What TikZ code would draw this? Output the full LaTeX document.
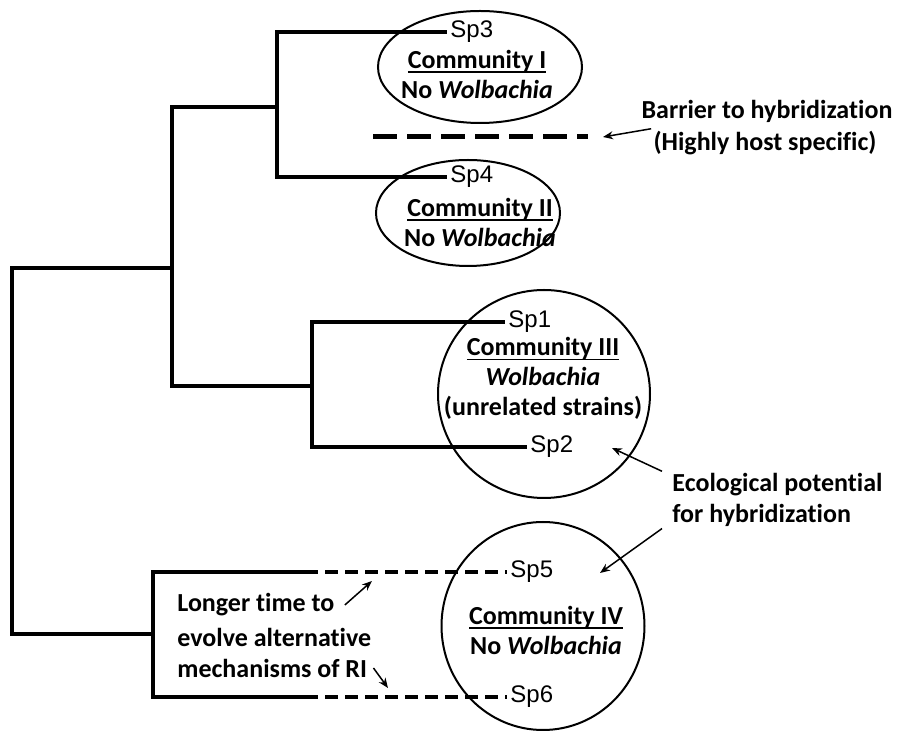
\documentclass[tikz,border=0pt]{standalone}
\usepackage{fontspec}
\setmainfont{Carlito}[Ligatures=NoCommon]
\newfontfamily\spfont{Liberation Sans}
\usetikzlibrary{shapes.geometric,arrows.meta}
\newcommand\commline[1]{\leavevmode\setbox0\hbox{#1}\rlap{\rule[-2.5pt]{\wd0}{0.8pt}}\box0}

\begin{document}
\begin{tikzpicture}[x=0.5pt,y=-0.5pt,
  branch/.style={line width=2pt},
  gap/.style={line width=2pt,dash pattern=on 6.5pt off 3.5pt,dash phase=6.5pt},
  barrier/.style={line width=2.5pt,dash pattern=on 12pt off 5pt},
  community/.style={ellipse,draw,line width=1pt,inner sep=0pt},
  species/.style={anchor=west,inner sep=1.5pt,font=\spfont\fontsize{12}{14}\selectfont},
  note/.style={font=\bfseries\fontsize{13}{15}\selectfont,align=center,inner sep=1pt},
  pointer/.style={line width=0.75pt,-{Stealth[length=5pt,width=4pt]}}]
\useasboundingbox (0,0) rectangle (901,731);

\node[community,minimum width=102pt,minimum height=56pt] (c1) at (480,67) {};
\node[community,minimum width=92pt,minimum height=53pt] (c2) at (468,213) {};
\node[community,minimum width=106pt,minimum height=104pt] (c3) at (544,394) {};
\node[community,minimum width=101.5pt,minimum height=104pt] (c4) at (543,626) {};

\node[species] (sp3) at (447,32) {Sp3};
\node[species] (sp4) at (447,177) {Sp4};
\node[species] (sp1) at (505,322) {Sp1};
\node[species] (sp2) at (527,447) {Sp2};
\node[species] (sp5) at (507,572) {Sp5};
\node[species] (sp6) at (507,697) {Sp6};

\coordinate (root) at (12,451);
\coordinate (n1) at (172,268);
\coordinate (n2) at (277,107);
\coordinate (n3) at (312,386);
\coordinate (n4) at (153,634);
\coordinate (d5) at (318,572);
\coordinate (d6) at (318,697);

\draw[branch] (root) |- (n1) (root) |- (n4) (n1) |- (n2) (n1) |- (n3)
  (n2) |- (sp3) (n2) |- (sp4) (n3) |- (sp1) (n3) |- (sp2)
  (n4) |- (d5) (n4) |- (d6);
\draw[gap] (d5) -- (sp5);
\draw[gap] (d6) -- (sp6);

\coordinate (b1) at (373,137);
\coordinate (b2) at (588,137);
\draw[barrier] (b1) -- (b2);

\node[note] (t1) at (477,74) {\commline{Community I}\\No \textit{Wolbachia}};
\node[note] (t2) at (480,222) {\commline{Community II}\\No \textit{Wolbachia}};
\node[note] (t3) at (543,378) {\commline{Community III}\\\textit{Wolbachia}\\(unrelated strains)};
\node[note] (t4) at (546,630) {\commline{Community IV}\\No \textit{Wolbachia}};

\node[note] (barrier1) at (767,111) {Barrier to hybridization};
\node[note] (barrier2) at (765,143) {(Highly host specific)};
\node[note,anchor=west] (eco1) at (670,485) {Ecological potential};
\node[note,anchor=west] (eco2) at (670,515) {for hybridization};
\node[note,anchor=west] (longer1) at (175,605) {Longer time to};
\node[note,anchor=west] (longer2) at (175,637) {evolve alternative};
\node[note,anchor=west] (longer3) at (175,668) {mechanisms of RI};

\coordinate (a1) at (603,137);
\coordinate (a2) at (612,448);
\coordinate (a3) at (600,573);
\coordinate (a4) at (372,581);
\coordinate (a5) at (388,688);
\draw[pointer] (barrier2.north west) -- (a1);
\draw[pointer] ([xshift=-4pt]eco1.north west) -- (a2);
\draw[pointer] ([xshift=-4pt]eco2.south west) -- (a3);
\draw[pointer] ([xshift=4pt]longer1.east) -- (a4);
\draw[pointer] ([xshift=2pt]longer3.east) -- (a5);
\end{tikzpicture}
\end{document}
